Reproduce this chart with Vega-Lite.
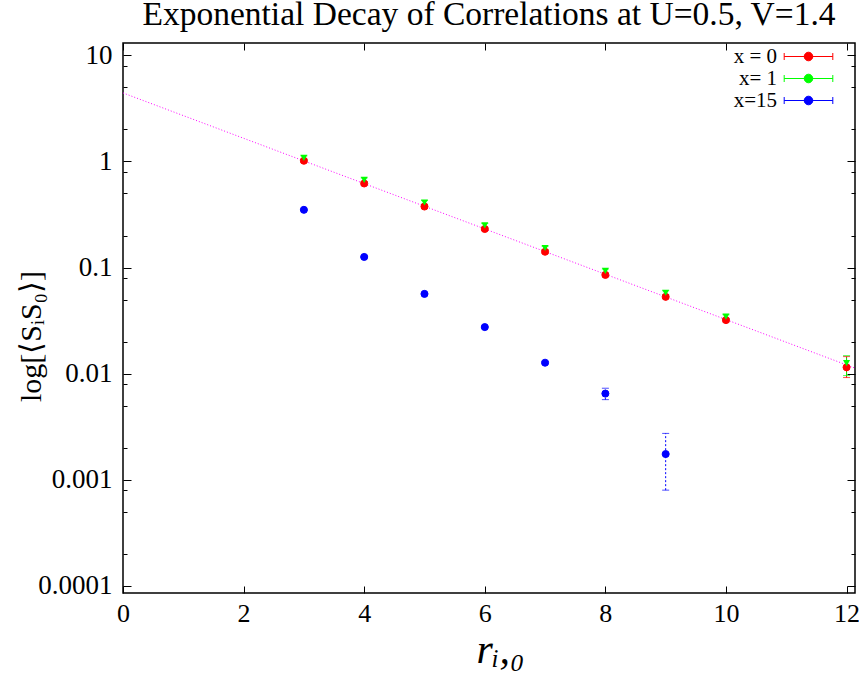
{
  "$schema": "https://vega.github.io/schema/vega-lite/v6.json",
  "autosize": {"type": "none"},
  "padding": {"left": 123, "top": 43, "right": 4, "bottom": 80},
  "width": 732,
  "height": 550,
  "background": "white",
  "title": {
    "text": "Exponential Decay of Correlations at U=0.5, V=1.4",
    "font": "Liberation Serif",
    "fontSize": 33.5,
    "fontWeight": "normal",
    "color": "black",
    "anchor": "middle",
    "baseline": "alphabetic",
    "offset": 15,
    "dy": 32
  },
  "config": {
    "view": {"stroke": "black", "strokeWidth": 1.5},
    "axis": {
      "labelFont": "Liberation Serif",
      "labelFontSize": 27,
      "labelColor": "black",
      "tickColor": "black",
      "tickWidth": 1,
      "domain": false,
      "grid": false,
      "labelFlush": false,
      "labelOverlap": false,
      "labelBound": false,
      "minExtent": 0
    }
  },
  "datasets": {
    "pts": [
      {"series": "x = 0", "r": 3, "v": 1.015, "lo": 0.98, "hi": 1.05},
      {"series": "x = 0", "r": 4, "v": 0.62, "lo": 0.6, "hi": 0.64},
      {"series": "x = 0", "r": 5, "v": 0.376, "lo": 0.364, "hi": 0.388},
      {"series": "x = 0", "r": 6, "v": 0.231, "lo": 0.224, "hi": 0.238},
      {"series": "x = 0", "r": 7, "v": 0.141, "lo": 0.136, "hi": 0.146},
      {"series": "x = 0", "r": 8, "v": 0.0853, "lo": 0.082, "hi": 0.088},
      {"series": "x = 0", "r": 9, "v": 0.053, "lo": 0.051, "hi": 0.055},
      {"series": "x = 0", "r": 10, "v": 0.032, "lo": 0.0308, "hi": 0.0332},
      {"series": "x = 0", "r": 12, "v": 0.0115, "lo": 0.0092, "hi": 0.0145},
      {"series": "x= 1", "r": 3, "v": 1.08, "lo": 1.03, "hi": 1.13},
      {"series": "x= 1", "r": 4, "v": 0.67, "lo": 0.645, "hi": 0.7},
      {"series": "x= 1", "r": 5, "v": 0.41, "lo": 0.395, "hi": 0.428},
      {"series": "x= 1", "r": 6, "v": 0.25, "lo": 0.241, "hi": 0.26},
      {"series": "x= 1", "r": 7, "v": 0.153, "lo": 0.147, "hi": 0.159},
      {"series": "x= 1", "r": 8, "v": 0.093, "lo": 0.089, "hi": 0.097},
      {"series": "x= 1", "r": 9, "v": 0.058, "lo": 0.0555, "hi": 0.0605},
      {"series": "x= 1", "r": 10, "v": 0.0345, "lo": 0.033, "hi": 0.036},
      {"series": "x= 1", "r": 12, "v": 0.0126, "lo": 0.0096, "hi": 0.0148},
      {"series": "x=15", "r": 3, "v": 0.35, "lo": 0.345, "hi": 0.355},
      {"series": "x=15", "r": 4, "v": 0.126, "lo": 0.124, "hi": 0.128},
      {"series": "x=15", "r": 5, "v": 0.0565, "lo": 0.0555, "hi": 0.0575},
      {"series": "x=15", "r": 6, "v": 0.0275, "lo": 0.027, "hi": 0.028},
      {"series": "x=15", "r": 7, "v": 0.0127, "lo": 0.0124, "hi": 0.013},
      {"series": "x=15", "r": 8, "v": 0.0065, "lo": 0.0057, "hi": 0.0073},
      {"series": "x=15", "r": 9, "v": 0.00175, "lo": 0.0008, "hi": 0.00274}
    ],
    "fit": [
      {"r": 0, "v": 4.42},
      {"r": 12.14, "v": 0.0113}
    ]
  },
  "resolve": {"axis": {"x": "independent", "y": "independent"}},
  "layer": [
    {
      "data": {"name": "fit"},
      "mark": {"type": "line", "color": "#ff00ff", "strokeWidth": 1, "strokeDash": [1, 2]},
      "encoding": {
        "x": {
          "field": "r", "type": "quantitative",
          "scale": {"type": "linear", "domain": [0, 12.14], "nice": false, "zero": false},
          "axis": {
            "orient": "bottom",
            "values": [0, 2, 4, 6, 8, 10, 12],
            "format": "d",
            "tickSize": -7,
            "labelFontSize": 26,
            "labelPadding": 14,
            "title": "rᵢ,₀",
            "titleFont": "Liberation Serif",
            "titleFontSize": 42,
            "titleFontStyle": "italic",
            "titleFontWeight": "normal",
            "titleColor": "black",
            "titleX": 377,
            "titleY": 69,
            "titleBaseline": "alphabetic"
          }
        },
        "y": {
          "field": "v", "type": "quantitative",
          "scale": {"type": "log", "domain": [0.0000859, 13.06], "nice": false},
          "axis": {
            "orient": "left",
            "values": [0.0001, 0.0002, 0.0005, 0.0008, 0.001, 0.002, 0.005, 0.008, 0.01, 0.02, 0.05, 0.08, 0.1, 0.2, 0.5, 0.8, 1, 2, 5, 8, 10],
            "format": "~g",
            "labelExpr": "indexof(['10','1','0.1','0.01','0.001','0.0001'], datum.label) >= 0 ? datum.label : ''",
            "tickSize": {"condition": {"test": "indexof([10,1,0.1,0.01,0.001,0.0001], datum.value) >= 0", "value": -8}, "value": -4},
            "labelPadding": 19,
            "title": "log[⟨SᵢS₀⟩]",
            "titleFont": "Liberation Serif",
            "titleFontSize": 30,
            "titleFontWeight": "normal",
            "titleColor": "black",
            "titleX": -92,
            "titleY": 293,
            "titleBaseline": "middle"
          }
        }
      }
    },
    {
      "data": {"name": "fit"},
      "mark": {"type": "line", "strokeOpacity": 0},
      "encoding": {
        "x": {
          "field": "r", "type": "quantitative",
          "scale": {"type": "linear", "domain": [0, 12.14], "nice": false, "zero": false},
          "axis": {"orient": "top", "values": [0, 2, 4, 6, 8, 10, 12], "labels": false, "title": null, "tickSize": -7}
        },
        "y": {
          "field": "v", "type": "quantitative",
          "scale": {"type": "log", "domain": [0.0000859, 13.06], "nice": false},
          "axis": {
            "orient": "right",
            "values": [0.0001, 0.0002, 0.0005, 0.0008, 0.001, 0.002, 0.005, 0.008, 0.01, 0.02, 0.05, 0.08, 0.1, 0.2, 0.5, 0.8, 1, 2, 5, 8, 10],
            "labels": false,
            "title": null,
            "tickSize": {"condition": {"test": "indexof([10,1,0.1,0.01,0.001,0.0001], datum.value) >= 0", "value": -8}, "value": -4}
          }
        }
      }
    },
    {
      "data": {"name": "pts"},
      "transform": [{"filter": "datum.series === 'x = 0'"}],
      "mark": {"type": "errorbar", "color": "#ff0000", "ticks": {"size": 7, "color": "#ff0000"}, "rule": {"color": "#ff0000"}},
      "encoding": {
        "x": {"field": "r", "type": "quantitative", "scale": {"type": "linear", "domain": [0, 12.14], "nice": false, "zero": false}, "axis": null},
        "y": {"field": "lo", "type": "quantitative", "scale": {"type": "log", "domain": [0.0000859, 13.06], "nice": false}, "axis": null},
        "y2": {"field": "hi"}
      }
    },
    {
      "data": {"name": "pts"},
      "transform": [{"filter": "datum.series === 'x= 1'"}],
      "mark": {"type": "errorbar", "color": "#00ff00", "ticks": {"size": 7, "color": "#00ff00"}, "rule": {"color": "#00ff00", "strokeDash": [4, 3]}},
      "encoding": {
        "x": {"field": "r", "type": "quantitative", "scale": {"type": "linear", "domain": [0, 12.14], "nice": false, "zero": false}, "axis": null},
        "y": {"field": "lo", "type": "quantitative", "scale": {"type": "log", "domain": [0.0000859, 13.06], "nice": false}, "axis": null},
        "y2": {"field": "hi"}
      }
    },
    {
      "data": {"name": "pts"},
      "transform": [{"filter": "datum.series === 'x=15'"}],
      "mark": {"type": "errorbar", "color": "#0000ff", "ticks": {"size": 7, "color": "#0000ff", "strokeDash": [2, 2]}, "rule": {"color": "#0000ff", "strokeDash": [2, 2]}},
      "encoding": {
        "x": {"field": "r", "type": "quantitative", "scale": {"type": "linear", "domain": [0, 12.14], "nice": false, "zero": false}, "axis": null},
        "y": {"field": "lo", "type": "quantitative", "scale": {"type": "log", "domain": [0.0000859, 13.06], "nice": false}, "axis": null},
        "y2": {"field": "hi"}
      }
    },
    {
      "data": {"name": "pts"},
      "transform": [{"filter": "datum.series !== 'x= 1'"}],
      "mark": {"type": "point", "filled": true, "opacity": 1, "size": 50, "strokeWidth": 1},
      "encoding": {
        "x": {"field": "r", "type": "quantitative", "scale": {"type": "linear", "domain": [0, 12.14], "nice": false, "zero": false}, "axis": null},
        "y": {"field": "v", "type": "quantitative", "scale": {"type": "log", "domain": [0.0000859, 13.06], "nice": false}, "axis": null},
        "stroke": {
          "field": "series", "type": "nominal",
          "scale": {"domain": ["x = 0", "x= 1", "x=15"], "range": ["#ff0000", "#00ff00", "#0000ff"]},
          "legend": null
        },
        "color": {
          "field": "series", "type": "nominal",
          "scale": {"domain": ["x = 0", "x= 1", "x=15"], "range": ["#ff0000", "#00ff00", "#0000ff"]},
          "legend": {
            "orient": "none",
            "legendX": 675,
            "legendY": 3,
            "title": null,
            "padding": 0,
            "symbolSize": 100,
            "symbolType": "M-4.86,0H4.86M-4.86,-0.7V0.7M4.86,-0.7V0.7M0.86,0A0.86,0.86,0,1,1,-0.86,0A0.86,0.86,0,1,1,0.86,0Z",
            "symbolStrokeWidth": 1,
            "rowPadding": 0,
            "labelFont": "Liberation Serif",
            "labelFontSize": 21,
            "labelColor": "black",
            "labelAlign": "right",
            "labelOffset": -42,
            "encode": {
              "symbols": {
                "strokeDash": {
                  "condition": [
                    {"test": "datum.value === 'x= 1'", "value": [4, 3]},
                    {"test": "datum.value === 'x=15'", "value": [2, 2]}
                  ],
                  "value": [1, 0]
                },
                "opacity": {"value": 1}
              }
            }
          }
        }
      }
    },
    {
      "data": {"name": "pts"},
      "transform": [{"filter": "datum.series === 'x= 1'"}],
      "mark": {"type": "point", "filled": true, "opacity": 1, "size": 50, "shape": "triangle-down", "color": "#00ff00"},
      "encoding": {
        "x": {"field": "r", "type": "quantitative", "scale": {"type": "linear", "domain": [0, 12.14], "nice": false, "zero": false}, "axis": null},
        "y": {"field": "v", "type": "quantitative", "scale": {"type": "log", "domain": [0.0000859, 13.06], "nice": false}, "axis": null}
      }
    }
  ]
}
